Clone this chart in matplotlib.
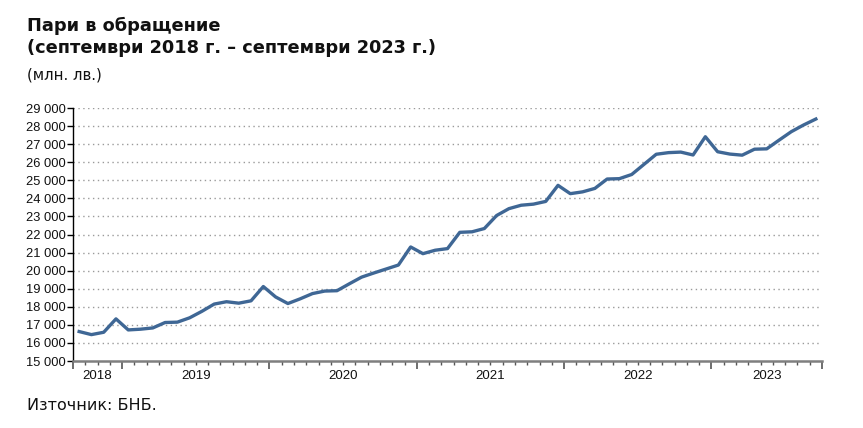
import matplotlib
matplotlib.use("Agg")
import matplotlib.pyplot as plt
import matplotlib.transforms as mtransforms
import numpy as np

plt.rcParams['font.family'] = ['Liberation Sans', 'DejaVu Sans']

title1 = "Пари в обращение"
title2 = "(септември 2018 г. – септември 2023 г.)"
unit = "(млн. лв.)"
source = "Източник: БНБ."

years = ["2018", "2019", "2020", "2021", "2022", "2023"]
months_per_year = [4, 12, 12, 12, 12, 9]

values = [
    16630, 16460, 16590, 17330,                      # 2018 Sep-Dec
    16720, 16760, 16830, 17130, 17150, 17390,        # 2019
    17750, 18150, 18280, 18200, 18330, 19120,
    18545, 18180, 18440, 18730, 18870, 18890,        # 2020
    19270, 19640, 19870, 20090, 20310, 21310,
    20940, 21130, 21220, 22120, 22150, 22330,        # 2021
    23050, 23430, 23620, 23680, 23830, 24720,
    24260, 24360, 24550, 25070, 25090, 25320,        # 2022
    25880, 26440, 26530, 26560, 26400, 27410,
    26580, 26450, 26390, 26720, 26740, 27220,        # 2023 Jan-Sep
    27690, 28060, 28390,
]

yticks = list(range(15000, 29001, 1000))

fig = plt.figure(figsize=(8.63, 4.28), dpi=100)
ax = fig.add_axes([73/863, 1-361/428, (822-73)/863, (361-108)/428])

x = np.arange(len(values))
ax.plot(x, values, color='#3f6795', lw=2.4, solid_joinstyle='round', zorder=3)

ax.set_xlim(-0.5, len(values) - 0.5)
ax.set_ylim(15000, 29000)

for v in yticks[1:]:
    ax.axhline(v, color='#9a9a9a', lw=1.0, ls=(0, (1, 2.5)), zorder=1)

ax.set_yticks(yticks)
ax.set_yticklabels([f"{v:,}".replace(",", " ") for v in yticks])
ax.tick_params(axis='y', direction='out', length=4, width=1, color='black',
               labelsize=9.3, pad=1, labelcolor='#111111')

bounds = np.concatenate([[0], np.cumsum(months_per_year)]) - 0.5
ax.set_xticks(bounds)
ax.set_xticklabels([])
ax.set_xticks(np.arange(len(values) + 1) - 0.5, minor=True)
ax.tick_params(axis='x', which='major', direction='out', length=6, width=1.2, color='#555555')
ax.tick_params(axis='x', which='minor', direction='out', length=3, width=1, color='#555555')

trans = mtransforms.blended_transform_factory(ax.transData, ax.transAxes)
for i, yr in enumerate(years):
    c = (bounds[i] + bounds[i + 1]) / 2
    ax.text(c, -0.058, yr, transform=trans, ha='center', va='center', fontsize=9.5, color='#111111')

for s in ['top', 'right']:
    ax.spines[s].set_visible(False)
ax.spines['left'].set_color('black')
ax.spines['left'].set_linewidth(1)
ax.spines['bottom'].set_color('#7f7f7f')
ax.spines['bottom'].set_linewidth(1.8)

wide = ['DejaVu Sans']
fig.text(27/863, 1-26/428, title1, fontsize=12.8, fontweight='bold', family=wide,
         ha='left', va='center', color='#111111')
fig.text(27/863, 1-48/428, title2, fontsize=12.8, fontweight='bold', family=wide,
         ha='left', va='center', color='#111111')
fig.text(27/863, 1-75/428, unit, fontsize=10.8, family=wide, ha='left', va='center', color='#111111')
fig.text(27/863, 1-405/428, source, fontsize=11.5, family=wide, ha='left', va='center', color='#111111')

fig.savefig("out.png", dpi=100, facecolor='white')
